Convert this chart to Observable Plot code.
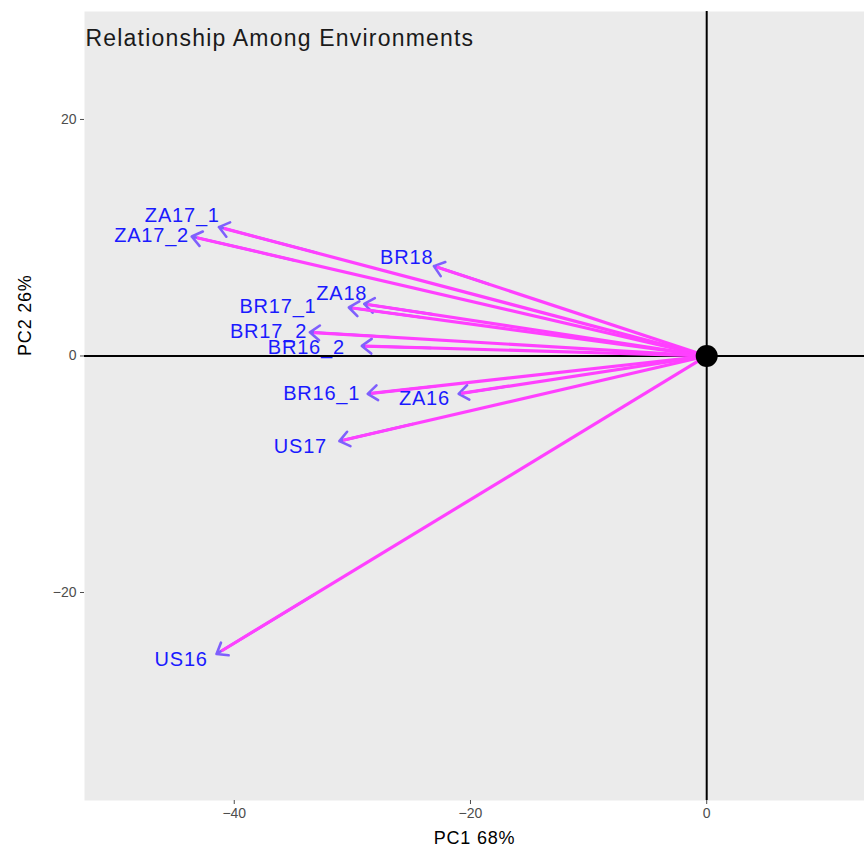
<!DOCTYPE html>
<html>
<head>
<meta charset="utf-8">
<script src="https://cdn.jsdelivr.net/npm/d3@7"></script>
<script src="https://cdn.jsdelivr.net/npm/@observablehq/plot@0.6"></script>
<style>
  body { margin: 0; background: #ffffff; }
  #chart { width: 864px; height: 852px; }
</style>
</head>
<body>
<div id="chart"></div>
<script>
// Environment loadings (arrow tips) on PC1 / PC2
const envs   = ["ZA17_1", "ZA17_2", "BR18", "ZA18", "BR17_1", "BR17_2", "BR16_2", "BR16_1", "ZA16", "US17", "US16"];
const pc1    = [-41.3, -43.6, -23.1, -29.0, -30.3, -33.6, -29.2, -28.7, -21.0, -31.1, -41.5];
const pc2    = [ 10.9,  10.1,   7.6,   4.4,   4.1,   2.0,   0.85, -3.2,  -3.2,  -7.2, -25.2];
// Label anchor positions (data units) as drawn in the figure
const labX   = [-44.4, -47.0, -25.4, -30.9, -36.3, -37.1, -33.9, -32.6, -23.9, -34.4, -44.5];
const labY   = [ 11.9,  10.2,   8.3,   5.3,   4.2,   2.1,   0.7,  -3.2,  -3.6,  -7.7, -25.7];
const xTicks = [-40, -20, 0];
const yTicks = [-20, 0, 20];
const xDomain = [-52.68, 13.36];
const yDomain = [-37.59, 29.13];

const rows = envs.map((e, i) => ({env: e, x: pc1[i], y: pc2[i], lx: labX[i], ly: labY[i]}));
const origin = [{x: 0, y: 0}];

const plot = Plot.plot({
  width: 864,
  height: 852,
  marginLeft: 84,
  marginRight: 0,
  marginTop: 11,
  marginBottom: 52,
  style: {fontFamily: "Liberation Sans, Arial, sans-serif", background: "#ffffff"},
  x: {domain: xDomain, label: null},
  y: {domain: yDomain, label: null},
  marks: [
    Plot.frame({fill: "#ebebeb", stroke: null}),
    Plot.ruleY([0], {stroke: "#000000", strokeWidth: 2}),
    Plot.ruleX([0], {stroke: "#000000", strokeWidth: 2}),
    Plot.axisX({ticks: xTicks, tickSize: 4, tickPadding: 4, fontSize: 14, color: "#4d4d4d", stroke: "#4d4d4d", label: null}),
    Plot.axisY({ticks: yTicks, tickSize: 4, tickPadding: 4, fontSize: 14, color: "#4d4d4d", stroke: "#4d4d4d", label: null}),
    // arrowheads (blue-violet)
    Plot.arrow(rows, {
      x1: d => d.x * 0.8, y1: d => d.y * 0.8, x2: "x", y2: "y",
      stroke: "#7350ff", strokeWidth: 2.6, headLength: 7, headAngle: 75, strokeOpacity: 0.9
    }),
    // arrow shafts (magenta)
    Plot.link(rows, {
      x1: 0, y1: 0, x2: d => d.x * 0.99, y2: d => d.y * 0.99,
      stroke: "#ff40ff", strokeWidth: 3.2
    }),
    Plot.text(rows, {
      x: "lx", y: "ly", text: "env", fill: "#1a1aff", fontSize: 20, textAnchor: "middle",
      style: "letter-spacing:0.6px"
    }),
    Plot.dot(origin, {x: "x", y: "y", r: 11, fill: "#000000"}),
    Plot.text(["Relationship Among Environments"], {
      frameAnchor: "top-left", dx: 1, dy: 18, fill: "#1a1a1a", fontSize: 23, textAnchor: "start"
    }),
    Plot.text(["PC1 68%"], {
      frameAnchor: "bottom", dy: 43, fill: "#000000", fontSize: 18
    }),
    Plot.text(["PC2 26%"], {
      y: [0], frameAnchor: "left", dx: -59, rotate: -90, fill: "#000000", fontSize: 18
    })
  ]
});
// loosen glyph spacing to match reference rendering
d3.select(plot).selectAll("text").filter(function() {
  const t = this.textContent;
  return t === "Relationship Among Environments" || t === "PC1 68%" || t === "PC2 26%";
}).style("letter-spacing", "1.2px");
d3.select(plot).selectAll("g[aria-label='text'] text").style("letter-spacing", function() {
  const t = this.textContent;
  if (t === "Relationship Among Environments") return "1.2px";
  if (t === "PC1 68%" || t === "PC2 26%") return "0.8px";
  return "0.8px";
});
document.getElementById("chart").appendChild(plot);
</script>
</body>
</html>
